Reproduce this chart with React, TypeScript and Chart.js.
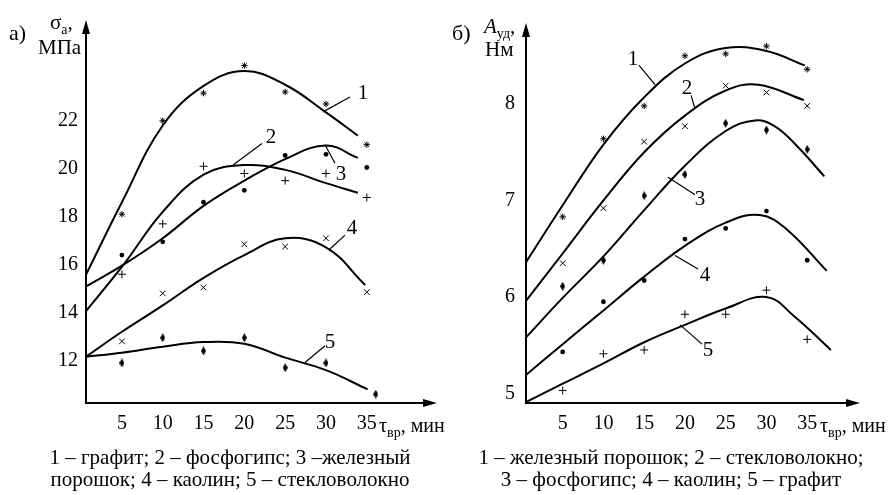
import React, { useEffect, useRef } from "react";
import { Chart, registerables } from "chart.js";

Chart.register(...registerables);

const FONT = "'Liberation Serif', 'Times New Roman', serif";

// ---------- Panel а) σa, МПа ----------
const A_TICKS_X = [5, 10, 15, 20, 25, 30, 35];
const A_TICKS_Y = [12, 14, 16, 18, 20, 22];
const A_PT_X = [5, 10, 15, 20, 25, 30, 35];
const A5_PT_X = [5, 10, 15, 20, 25, 30, 36.1];
const A1_PTS = [18.1, 22.0, 23.15, 24.3, 23.2, 22.7, 21.0];
const A2_PTS = [15.6, 17.7, 20.1, 19.8, 19.5, 19.8, 18.8];
const A3_PTS = [16.4, 16.95, 18.6, 19.1, 20.55, 20.6, 20.05];
const A4_PTS = [12.8, 14.8, 15.05, 16.85, 16.75, 17.1, 14.85];
const A5_PTS = [11.9, 12.95, 12.4, 12.95, 11.7, 11.9, 10.6];

const A1_FIT_X = [0.6, 5, 10, 15, 20, 25, 30, 33.9];
const A1_FIT = [15.58, 18.6, 21.8, 23.45, 24.07, 23.5, 22.35, 21.38];
const A2_FIT_X = [0.6, 5.2, 10, 15, 20, 25, 30, 33.9];
const A2_FIT = [14.06, 16.0, 18.2, 19.75, 20.15, 19.95, 19.4, 19.0];
const A3_FIT_X = [0.6, 5.2, 10, 15, 20, 25, 30, 33.9];
const A3_FIT = [15.09, 16.0, 17.1, 18.45, 19.5, 20.4, 20.97, 20.45];
const A4_FIT_X = [0.6, 5, 10, 15, 20, 25, 30, 34.8];
const A4_FIT = [12.16, 13.2, 14.3, 15.45, 16.4, 17.1, 16.72, 15.15];
const A5_FIT_X = [0.6, 5, 10, 15, 20, 25, 30, 35.1];
const A5_FIT = [12.16, 12.33, 12.58, 12.77, 12.7, 12.12, 11.6, 10.8];

const CURVE_NAMES = ["1", "2", "3", "4", "5"];
const A_LABEL_AT = [[34.53, 23.19], [23.26, 21.38], [31.84, 19.82], [33.19, 17.55], [30.49, 12.82]];
const A_LEADERS = [
  [29.63, 22.37, 32.94, 22.99],
  [18.61, 20.15, 22.16, 21.05],
  [29.88, 21.0, 31.1, 20.23],
  [30.49, 16.65, 32.33, 17.23],
  [27.43, 11.92, 29.88, 12.62],
];

// ---------- Panel б) Aуд, Нм ----------
const B_TICKS_X = [5, 10, 15, 20, 25, 30, 35];
const B_TICKS_Y = [5, 6, 7, 8];
const B_PT_X = [5, 10, 15, 20, 25, 30, 35];
const B1_PTS = [6.83, 7.64, 7.98, 8.5, 8.52, 8.6, 8.36];
const B2_PTS = [6.35, 6.92, 7.61, 7.77, 8.19, 8.12, 7.98];
const B3_PTS = [6.11, 6.38, 7.05, 7.27, 7.8, 7.73, 7.53];
const B4_PTS = [5.43, 5.95, 6.17, 6.6, 6.71, 6.89, 6.38];
const B5_PTS = [5.03, 5.41, 5.45, 5.82, 5.82, 6.07, 5.56];

const B1_FIT_X = [0.5, 5, 10, 15, 20, 25, 30, 34.7];
const B1_FIT = [6.36, 6.95, 7.58, 8.07, 8.42, 8.58, 8.55, 8.4];
const B2_FIT_X = [0.5, 5, 10, 15, 20, 25, 29, 34.6];
const B2_FIT = [5.96, 6.45, 7.0, 7.5, 7.88, 8.14, 8.2, 8.04];
const B3_FIT_X = [0.5, 5, 10, 15, 20, 25, 28.6, 31, 33.8, 37.1];
const B3_FIT = [5.58, 5.99, 6.42, 6.9, 7.36, 7.72, 7.83, 7.77, 7.56, 7.25];
const B4_FIT_X = [0.5, 5, 10, 15, 20, 25, 29.2, 32.5, 37.4];
const B4_FIT = [5.19, 5.51, 5.86, 6.21, 6.53, 6.77, 6.85, 6.7, 6.27];
const B5_FIT_X = [0.5, 5, 10, 15, 20, 25, 30, 33.4, 37.9];
const B5_FIT = [4.91, 5.1, 5.31, 5.53, 5.71, 5.88, 6.0, 5.8, 5.45];

const B_LABEL_AT = [[13.63, 8.48], [20.25, 8.18], [21.85, 7.03], [22.46, 6.24], [22.83, 5.46]];
const B_LEADERS = [
  [16.33, 8.2, 14.37, 8.4],
  [21.24, 7.95, 20.75, 8.09],
  [17.92, 7.24, 21.24, 7.06],
  [18.78, 6.43, 21.6, 6.29],
  [19.4, 5.71, 22.1, 5.51],
];

const zip = (xs: number[], ys: number[]) => xs.map((x, i) => ({ x, y: ys[i] }));

function makeDiamond() {
  const c = document.createElement("canvas");
  c.width = 5;
  c.height = 9;
  const g = c.getContext("2d")!;
  g.fillStyle = "#000";
  g.beginPath();
  g.moveTo(2.5, 0);
  g.lineTo(5, 4.5);
  g.lineTo(2.5, 9);
  g.lineTo(0, 4.5);
  g.closePath();
  g.fill();
  return c;
}

const axesPlugin = {
  id: "axesArrows",
  afterDraw(chart: any, _args: any, opts: any) {
    const { ctx, chartArea, scales } = chart;
    const { left, right, top, bottom } = chartArea;
    ctx.save();
    ctx.strokeStyle = "#000";
    ctx.fillStyle = "#000";
    ctx.lineWidth = 2;
    ctx.beginPath();
    ctx.moveTo(left, bottom);
    ctx.lineTo(left, top + 8);
    ctx.moveTo(left - 1, bottom);
    ctx.lineTo(right - 8, bottom);
    ctx.stroke();
    ctx.beginPath();
    ctx.moveTo(left, top);
    ctx.lineTo(left - 4, top + 14);
    ctx.lineTo(left + 4, top + 14);
    ctx.closePath();
    ctx.fill();
    ctx.beginPath();
    ctx.moveTo(right, bottom);
    ctx.lineTo(right - 14, bottom - 4);
    ctx.lineTo(right - 14, bottom + 4);
    ctx.closePath();
    ctx.fill();

    const xs = scales.x;
    const ys = scales.y;
    ctx.lineWidth = 1.2;
    (opts.leaders || []).forEach((l: number[]) => {
      ctx.beginPath();
      ctx.moveTo(xs.getPixelForValue(l[0]), ys.getPixelForValue(l[1]));
      ctx.lineTo(xs.getPixelForValue(l[2]), ys.getPixelForValue(l[3]));
      ctx.stroke();
    });
    ctx.font = `21px ${FONT}`;
    ctx.textAlign = "center";
    ctx.textBaseline = "alphabetic";
    (opts.labels || []).forEach((p: number[], i: number) => {
      ctx.fillText(opts.names[i], xs.getPixelForValue(p[0]), ys.getPixelForValue(p[1]) + 7);
    });
    ctx.restore();
  },
};

type PanelSpec = {
  width: number;
  padRight: number;
  leftW: number;
  xMin: number;
  xMax: number;
  yMin: number;
  yMax: number;
  xTicks: number[];
  yTicks: number[];
  yPad: number;
  fits: { x: number[]; y: number[] }[];
  pts: { x: number[]; y: number[]; style: string }[];
  labels: number[][];
  leaders: number[][];
};

function pointOpts(style: string, diamond: HTMLCanvasElement) {
  switch (style) {
    case "star":
      return { pointStyle: "star", pointRadius: 3.2, pointBorderWidth: 1 };
    case "cross":
      return { pointStyle: "cross", pointRadius: 4, pointBorderWidth: 1 };
    case "crossRot":
      return { pointStyle: "crossRot", pointRadius: 4, pointBorderWidth: 1 };
    case "dot":
      return { pointStyle: "circle", pointRadius: 2.4, pointBorderWidth: 0 };
    default:
      return { pointStyle: diamond, pointRadius: 4 };
  }
}

function Panel({ spec }: { spec: PanelSpec }) {
  const ref = useRef<HTMLCanvasElement>(null);
  useEffect(() => {
    if (!ref.current) return;
    const diamond = makeDiamond();
    const datasets: any[] = [];
    spec.pts.forEach((p) => {
      datasets.push({
        data: zip(p.x, p.y),
        showLine: false,
        borderColor: "#000",
        backgroundColor: "#000",
        ...pointOpts(p.style, diamond),
      });
    });
    spec.fits.forEach((f) => {
      datasets.push({
        data: zip(f.x, f.y),
        borderColor: "#000",
        borderWidth: 2,
        pointRadius: 0,
        tension: 0.4,
        fill: false,
      });
    });
    const tickFont = { family: FONT, size: 20 };
    const chart = new Chart(ref.current, {
      type: "line",
      data: { datasets },
      options: {
        animation: false,
        responsive: false,
        maintainAspectRatio: false,
        devicePixelRatio: 1,
        events: [],
        layout: { padding: { top: 15, right: spec.padRight, left: 0, bottom: 0 } },
        plugins: {
          legend: { display: false },
          tooltip: { enabled: false },
          axesArrows: { labels: spec.labels, leaders: spec.leaders, names: CURVE_NAMES },
        } as any,
        scales: {
          x: {
            type: "linear",
            min: spec.xMin,
            max: spec.xMax,
            grid: { display: false, drawTicks: false },
            border: { display: false },
            afterFit: (s: any) => {
              s.height = 92;
            },
            afterBuildTicks: (s: any) => {
              s.ticks = spec.xTicks.map((v) => ({ value: v }));
            },
            ticks: {
              font: tickFont,
              color: "#000",
              padding: 9,
              maxRotation: 0,
              autoSkip: false,
              callback: (v: any) => String(v),
            },
          },
          y: {
            type: "linear",
            min: spec.yMin,
            max: spec.yMax,
            grid: { display: false, drawTicks: false },
            border: { display: false },
            afterFit: (s: any) => {
              s.width = spec.leftW;
            },
            afterBuildTicks: (s: any) => {
              s.ticks = spec.yTicks.map((v) => ({ value: v }));
            },
            ticks: {
              font: tickFont,
              color: "#000",
              padding: spec.yPad,
              autoSkip: false,
              callback: (v: any) => String(v),
            },
          },
        },
      } as any,
      plugins: [axesPlugin as any],
    });
    return () => chart.destroy();
  }, [spec]);
  return (
    <canvas
      ref={ref}
      width={spec.width}
      height={495}
      style={{ width: spec.width, height: 495, display: "block" }}
    />
  );
}

const SPEC_A: PanelSpec = {
  width: 447,
  padRight: 10,
  leftW: 86,
  xMin: 0.6,
  xMax: 43.6,
  yMin: 10.23,
  yMax: 26.2,
  xTicks: A_TICKS_X,
  yTicks: A_TICKS_Y,
  yPad: 8,
  fits: [
    { x: A1_FIT_X, y: A1_FIT },
    { x: A2_FIT_X, y: A2_FIT },
    { x: A3_FIT_X, y: A3_FIT },
    { x: A4_FIT_X, y: A4_FIT },
    { x: A5_FIT_X, y: A5_FIT },
  ],
  pts: [
    { x: A_PT_X, y: A1_PTS, style: "star" },
    { x: A_PT_X, y: A2_PTS, style: "cross" },
    { x: A_PT_X, y: A3_PTS, style: "dot" },
    { x: A_PT_X, y: A4_PTS, style: "crossRot" },
    { x: A5_PT_X, y: A5_PTS, style: "diamond" },
  ],
  labels: A_LABEL_AT,
  leaders: A_LEADERS,
};

const SPEC_B: PanelSpec = {
  width: 448,
  padRight: 35,
  leftW: 79,
  xMin: 0.5,
  xMax: 41.48,
  yMin: 4.9,
  yMax: 8.84,
  xTicks: B_TICKS_X,
  yTicks: B_TICKS_Y,
  yPad: 11,
  fits: [
    { x: B1_FIT_X, y: B1_FIT },
    { x: B2_FIT_X, y: B2_FIT },
    { x: B3_FIT_X, y: B3_FIT },
    { x: B4_FIT_X, y: B4_FIT },
    { x: B5_FIT_X, y: B5_FIT },
  ],
  pts: [
    { x: B_PT_X, y: B1_PTS, style: "star" },
    { x: B_PT_X, y: B2_PTS, style: "crossRot" },
    { x: B_PT_X, y: B3_PTS, style: "diamond" },
    { x: B_PT_X, y: B4_PTS, style: "dot" },
    { x: B_PT_X, y: B5_PTS, style: "cross" },
  ],
  labels: B_LABEL_AT,
  leaders: B_LEADERS,
};

const txt = (left: number, top: number, size = 21): React.CSSProperties => ({
  position: "absolute",
  left,
  top,
  fontFamily: FONT,
  fontSize: size,
  lineHeight: `${size}px`,
  whiteSpace: "nowrap",
  color: "#000",
});

const sub: React.CSSProperties = { fontSize: 14, position: "relative", top: 5 };

export default function App() {
  return (
    <div
      style={{
        position: "fixed",
        left: 0,
        top: 0,
        width: 895,
        height: 495,
        background: "#fff",
        overflow: "hidden",
      }}
    >
      <div style={{ position: "absolute", left: 0, top: 0 }}>
        <Panel spec={SPEC_A} />
      </div>
      <div style={{ position: "absolute", left: 447, top: 0 }}>
        <Panel spec={SPEC_B} />
      </div>

      {/* Panel а titles */}
      <div style={txt(9, 22, 22)}>а)</div>
      <div style={txt(50, 12)}>
        σ<span style={sub}>а</span>,
      </div>
      <div style={txt(38, 37)}>МПа</div>
      <div style={txt(379, 415, 20)}>
        τ<span style={sub}>вр</span>, мин
      </div>

      {/* Panel б titles */}
      <div style={txt(452, 22, 22)}>б)</div>
      <div style={txt(484, 16)}>
        <i>A</i>
        <span style={sub}>уд</span>,
      </div>
      <div style={txt(485, 39)}>Нм</div>
      <div style={txt(820, 415, 20)}>
        τ<span style={sub}>вр</span>, мин
      </div>

      {/* Captions */}
      <div
        style={{
          ...txt(230, 446),
          lineHeight: "22px",
          textAlign: "center",
          transform: "translateX(-50%)",
        }}
      >
        1 – графит; 2 – фосфогипс; 3 –железный
        <br />
        порошок; 4 – каолин; 5 – стекловолокно
      </div>
      <div
        style={{
          ...txt(671, 446),
          lineHeight: "22px",
          textAlign: "center",
          transform: "translateX(-50%)",
        }}
      >
        1 – железный порошок; 2 – стекловолокно;
        <br />
        3 – фосфогипс; 4 – каолин; 5 – графит
      </div>
    </div>
  );
}
